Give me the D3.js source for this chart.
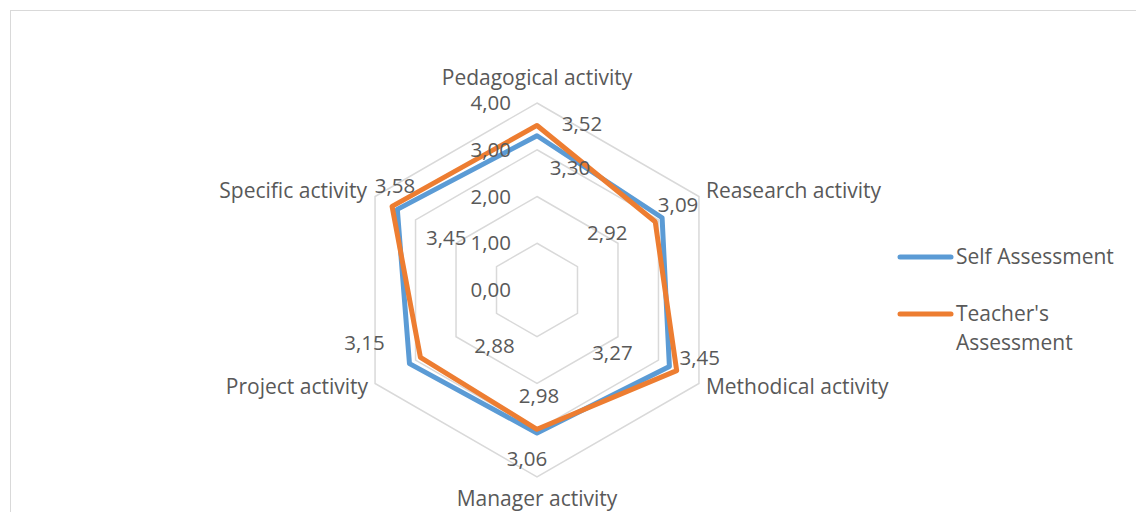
<!DOCTYPE html>
<html lang="en">
<head>
<meta charset="UTF-8">
<title>Self vs Teacher's Assessment</title>
<script src="https://cdnjs.cloudflare.com/ajax/libs/d3/7.8.5/d3.min.js"></script>
<style>
    html, body { margin: 0; padding: 0; background: #fff; }
    svg { display: block; font-family: "Open Sans", sans-serif; }
    text { fill: #595959; }
</style>
</head>
<body>
<svg id="chart" width="1136" height="512"></svg>
<script>
    // data
    const activities = ["Pedagogical activity", "Reasearch activity", "Methodical activity",
                        "Manager activity", "Project activity", "Specific activity"];
    const selfAssessment = [3.30, 3.09, 3.27, 3.06, 3.15, 3.45];
    const teacherAssessment = [3.52, 2.92, 3.45, 2.98, 2.88, 3.58];
    const gridTicks = [0, 1, 2, 3, 4];
    const seriesNames = ["Self Assessment", "Teacher's Assessment"];

    // label placement (offsets from each point, in px)
    const selfLabelOffsets = [[33, 32], [16, -13], [-57, -14], [-10, 26], [-45, -21], [49, 28]];
    const teacherLabelOffsets = [[45, -2], [-48, 11], [23, -13], [2, -33], [74, -11], [3, -20]];

    const colors = ["#5b9bd5", "#ed7d31"];
    const cx = 537, cy = 290, R = 187;

    const svg = d3.select("#chart");
    const fmt = v => d3.format(".2f")(v).replace(".", ",");

    // chart frame
    svg.append("rect")
        .attr("x", 10.5).attr("y", 10.5)
        .attr("width", 1200).attr("height", 600)
        .attr("fill", "none").attr("stroke", "#d9d9d9").attr("stroke-width", 1);

    const r = d3.scaleLinear().domain([0, 4]).range([0, R]);
    const angle = d3.scaleLinear().domain([0, activities.length]).range([0, 2 * Math.PI]);
    const px = (i, v) => cx + r(v) * Math.sin(angle(i));
    const py = (i, v) => cy - r(v) * Math.cos(angle(i));

    const radarLine = d3.lineRadial()
        .angle((d, i) => angle(i))
        .radius(d => r(d))
        .curve(d3.curveLinearClosed);

    const g = svg.append("g").attr("transform", `translate(${cx},${cy})`);

    // hexagon grid
    g.selectAll("path.grid")
        .data(gridTicks.filter(t => t > 0))
        .enter().append("path")
        .attr("class", "grid")
        .attr("d", t => radarLine(activities.map(() => t)))
        .attr("fill", "none")
        .attr("stroke", "#d9d9d9")
        .attr("stroke-width", 1.5);

    // tick labels
    svg.selectAll("text.tick")
        .data(gridTicks)
        .enter().append("text")
        .attr("class", "tick")
        .attr("x", cx - 26)
        .attr("y", t => cy - r(t))
        .attr("dy", "0.35em")
        .attr("text-anchor", "end")
        .attr("font-size", "20.5px")
        .text(fmt);

    // category labels
    const catLayout = [
        {anchor: "middle", dx: 0, dy: -25},
        {anchor: "start", dx: 7, dy: -6},
        {anchor: "start", dx: 7, dy: 3},
        {anchor: "middle", dx: 0, dy: 22},
        {anchor: "end", dx: -7, dy: 3},
        {anchor: "end", dx: -8, dy: -6}
    ];
    svg.selectAll("text.cat")
        .data(activities)
        .enter().append("text")
        .attr("class", "cat")
        .attr("x", (d, i) => px(i, 4) + catLayout[i].dx)
        .attr("y", (d, i) => py(i, 4) + catLayout[i].dy)
        .attr("dy", "0.35em")
        .attr("text-anchor", (d, i) => catLayout[i].anchor)
        .attr("font-size", "21px")
        .text(d => d);

    // series lines
    const series = [selfAssessment, teacherAssessment];
    g.selectAll("path.series")
        .data(series)
        .enter().append("path")
        .attr("class", "series")
        .attr("d", d => radarLine(d))
        .attr("fill", "none")
        .attr("stroke", (d, i) => colors[i])
        .attr("stroke-width", 5)
        .attr("stroke-linejoin", "round");

    // data labels
    const offsets = [selfLabelOffsets, teacherLabelOffsets];
    series.forEach((vals, s) => {
        svg.selectAll(`text.lbl${s}`)
            .data(vals)
            .enter().append("text")
            .attr("class", `lbl${s}`)
            .attr("x", (v, i) => px(i, v) + offsets[s][i][0])
            .attr("y", (v, i) => py(i, v) + offsets[s][i][1])
            .attr("dy", "0.35em")
            .attr("text-anchor", "middle")
            .attr("font-size", "20.5px")
            .text(fmt);
    });

    // legend
    const legendY = [257, 314];
    const legend = svg.append("g");
    seriesNames.forEach((name, i) => {
        legend.append("line")
            .attr("x1", 900).attr("x2", 951)
            .attr("y1", legendY[i]).attr("y2", legendY[i])
            .attr("stroke", colors[i])
            .attr("stroke-width", 5)
            .attr("stroke-linecap", "round");
        const words = i === 1 ? ["Teacher's", "Assessment"] : [name];
        legend.append("text")
            .attr("x", 956)
            .attr("y", legendY[i])
            .attr("font-size", "21px")
            .selectAll("tspan")
            .data(words)
            .enter().append("tspan")
            .attr("x", 956)
            .attr("dy", (w, j) => j === 0 ? "0.35em" : "29px")
            .text(w => w);
    });
</script>
</body>
</html>
